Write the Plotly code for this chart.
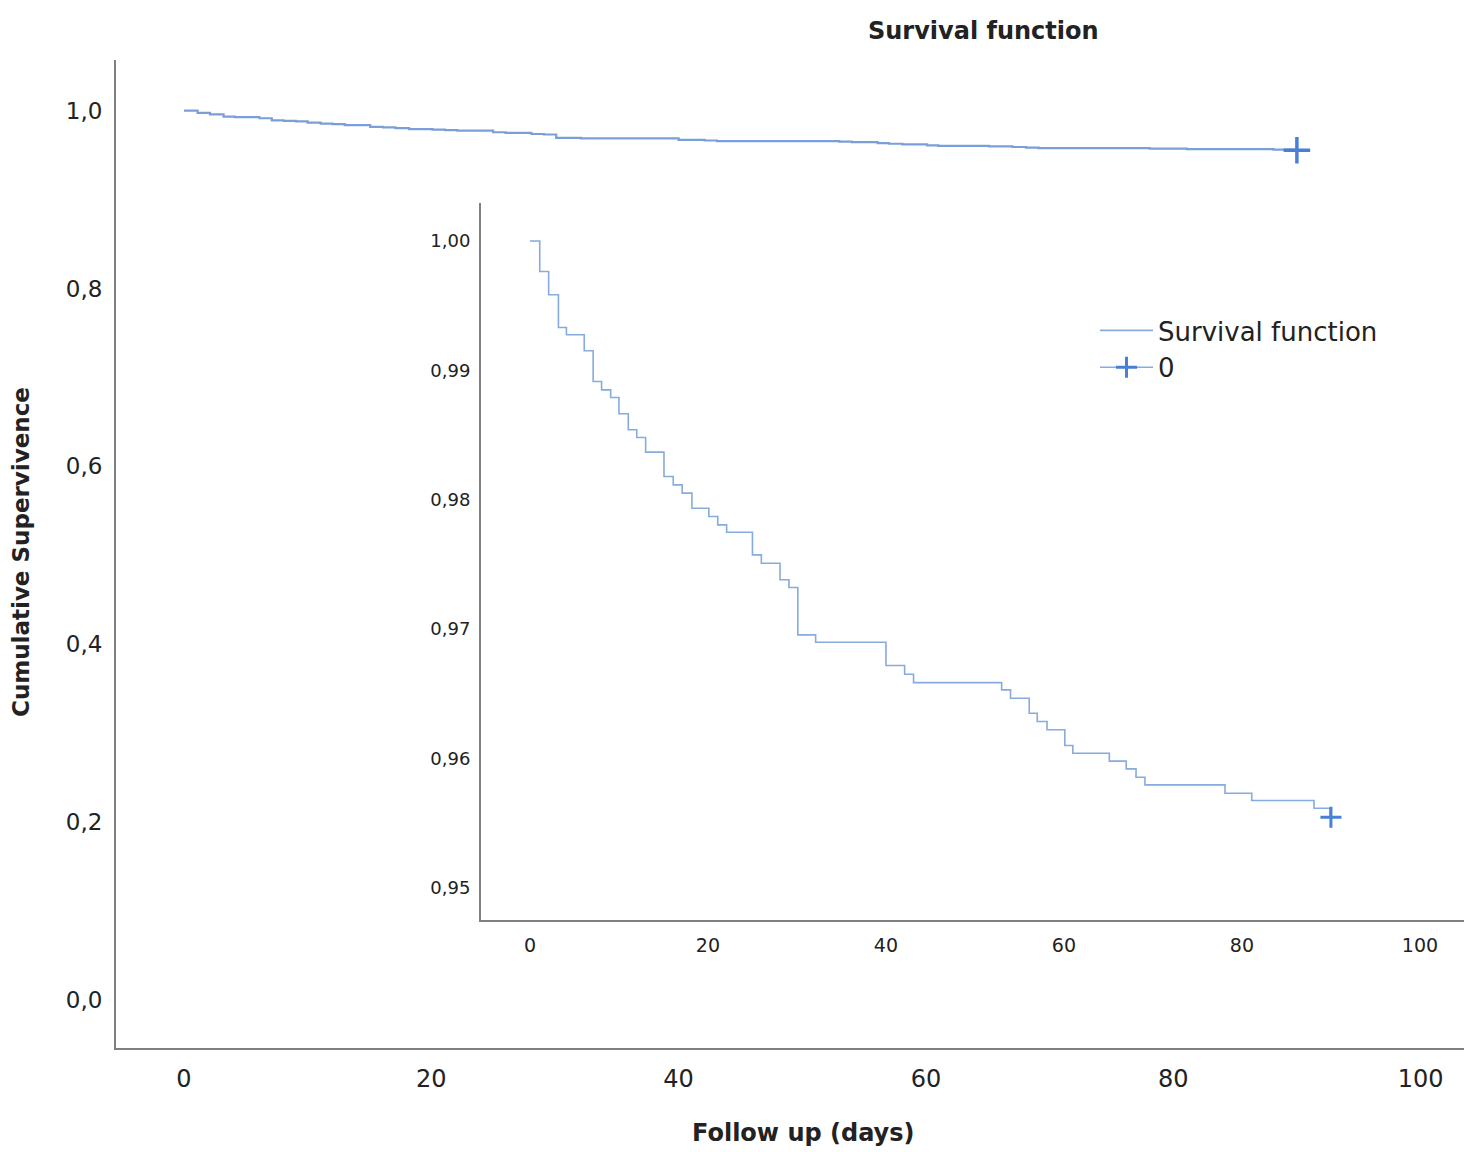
import plotly.graph_objects as go

# ---- data (Kaplan-Meier estimate) ----
event_days = [0, 1.1, 2.1, 3.2, 4.1, 6.1, 7.1, 8.05, 9.07, 10.0, 11.05, 12.0, 13.0,
              15.06, 16.1, 17.1, 18.2, 20.1, 21.1, 22.1, 25.0, 26.0, 28.1, 29.1,
              30.1, 32.1, 40.0, 42.1, 43.1, 53.0, 54.0, 56.1, 57.0, 58.1, 60.1,
              61.0, 65.1, 67.0, 68.1, 69.1, 78.1, 81.1, 88.1, 89.9]
survival = [1.0, 0.99764, 0.99584, 0.99331, 0.99275, 0.99151, 0.98913, 0.98849,
            0.98790, 0.98664, 0.98540, 0.98480, 0.98367, 0.98179, 0.98114, 0.98050,
            0.97933, 0.97869, 0.97805, 0.97748, 0.97573, 0.97508, 0.97380, 0.97320,
            0.96954, 0.96897, 0.96717, 0.96650, 0.96585, 0.96529, 0.96464, 0.96348,
            0.96284, 0.96220, 0.96098, 0.96039, 0.95978, 0.95918, 0.95853, 0.95794,
            0.95729, 0.95673, 0.95613, 0.95544]
censor_day = [90.0]
censor_surv = [survival[-1]]

main_yticks = [0.0, 0.2, 0.4, 0.6, 0.8, 1.0]
main_xticks = [0, 20, 40, 60, 80, 100]
inset_yticks = [0.95, 0.96, 0.97, 0.98, 0.99, 1.00]
inset_xticks = [0, 20, 40, 60, 80, 100]

line_x = event_days + censor_day
line_y = survival + censor_surv

# page has an 8px body margin; figure sized to fill the window from there
OFF = 8
W, H = 1472 - OFF, 1152 - OFF


def px(xp):
    return min(1.0, max(0.0, (xp - OFF) / W))


def py(yp):
    return min(1.0, max(0.0, 1 - (yp - OFF) / H))


FONT = "DejaVu Sans"
AXIS_COL = "#808080"
MAIN_LINE = "#7a9fd8"
INSET_LINE = "#86abdf"
CROSS = "#4a7fd6"
TXT = "#222222"

fig = go.Figure()

# main panel
fig.add_trace(go.Scatter(x=line_x, y=line_y, mode="lines", line_shape="hv",
                         line=dict(color=MAIN_LINE, width=2.2), showlegend=False,
                         xaxis="x", yaxis="y"))
fig.add_trace(go.Scatter(x=censor_day, y=censor_surv, mode="markers",
                         marker=dict(symbol="cross-thin", size=19,
                                     line=dict(color=CROSS, width=3.5)),
                         showlegend=False, xaxis="x", yaxis="y"))

# inset panel
fig.add_trace(go.Scatter(x=line_x, y=line_y, mode="lines", line_shape="hv",
                         line=dict(color=INSET_LINE, width=1.6),
                         name="Survival function", xaxis="x2", yaxis="y2"))
fig.add_trace(go.Scatter(x=censor_day, y=censor_surv, mode="lines+markers",
                         line=dict(color=INSET_LINE, width=1.6),
                         marker=dict(symbol="cross-thin", size=15,
                                     line=dict(color=CROSS, width=3)),
                         name="0", xaxis="x2", yaxis="y2"))

axis_common = dict(showline=True, linecolor=AXIS_COL, linewidth=2, showgrid=False,
                   zeroline=False, ticks="", mirror=False)

fig.update_layout(
    width=W, height=H,
    margin=dict(l=0, r=0, t=0, b=0),
    paper_bgcolor="white", plot_bgcolor="rgba(0,0,0,0)",
    separators=",.",
    font=dict(family=FONT, color=TXT),
    xaxis=dict(domain=[px(116), px(1470)], range=[-5.5, 104.0], anchor="y",
               tickvals=main_xticks, tickformat="d", ticklabelstandoff=8,
               tickfont=dict(size=24, color=TXT), **axis_common),
    yaxis=dict(domain=[py(1048), py(60)], range=[-0.054, 1.057], anchor="x",
               tickvals=main_yticks, tickformat=".1f", ticklabelstandoff=7,
               tickfont=dict(size=23, color=TXT), **axis_common),
    xaxis2=dict(domain=[px(481), px(1468)], range=[-5.5, 105.4], anchor="y2",
                tickvals=inset_xticks, tickformat="d", ticklabelstandoff=7,
                tickfont=dict(size=19, color=TXT), **axis_common),
    yaxis2=dict(domain=[py(920), py(203)], range=[0.94749, 1.00294], anchor="x2",
                tickvals=inset_yticks, tickformat=".2f", ticklabelstandoff=5,
                tickfont=dict(size=18, color=TXT), **axis_common),
    legend=dict(x=px(1095), y=py(307), xanchor="left", yanchor="top",
                bgcolor="rgba(0,0,0,0)", font=dict(size=26, color=TXT),
                itemwidth=53, tracegroupgap=0),
    annotations=[
        dict(text="<b>Survival function</b>", x=px(983), y=py(31),
             xanchor="center", yanchor="middle",
             xref="paper", yref="paper", showarrow=False,
             font=dict(size=24, color=TXT)),
        dict(text="<b>Follow up (days)</b>", x=px(803), y=py(1133),
             xanchor="center", yanchor="middle",
             xref="paper", yref="paper", showarrow=False,
             font=dict(size=24, color=TXT)),
        dict(text="<b>Cumulative Supervivence</b>", x=px(21), y=py(552),
             xanchor="center", yanchor="middle",
             xref="paper", yref="paper", showarrow=False, textangle=-90,
             font=dict(size=23, color=TXT)),
    ],
)

fig.write_html("out.html")
